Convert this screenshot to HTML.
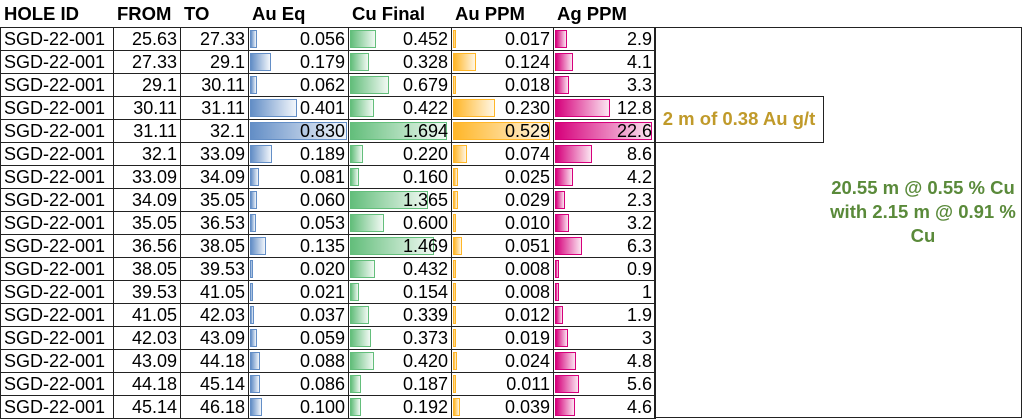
<!DOCTYPE html>
<html><head><meta charset="utf-8"><style>
body{margin:0;background:#fff;width:1024px;height:420px;overflow:hidden;font-family:"Liberation Sans",Arial,sans-serif;}
.h{position:absolute;top:3px;font-weight:bold;font-size:18.5px;color:#000}
table{position:absolute;left:0;top:27px;border-collapse:collapse;}
td{height:23px;padding:0 3px;font-size:18px;border:1px solid #222;line-height:22px;position:relative;overflow:hidden;box-sizing:border-box;white-space:nowrap}
td.n{text-align:right}
.b{position:absolute;left:1px;top:2px;bottom:2px;box-sizing:border-box;}
.bl{background:linear-gradient(90deg,#638ec6,#f2f6fb);border:1px solid #638ec6}
.gr{background:linear-gradient(90deg,#63be7b,#f1f9f3);border:1px solid #63be7b}
.or{background:linear-gradient(90deg,#ffb628,#fff6e4);border:1px solid #ffb628}
.pk{background:linear-gradient(90deg,#d6007b,#fbe5f1);border:1px solid #d6007b}
td span{position:relative}
</style></head><body>
<div class="h" style="left:4px">HOLE ID</div>
<div class="h" style="left:117px">FROM</div>
<div class="h" style="left:184px">TO</div>
<div class="h" style="left:252px">Au Eq</div>
<div class="h" style="left:352px">Cu Final</div>
<div class="h" style="left:455px">Au PPM</div>
<div class="h" style="left:557px">Ag PPM</div>
<div style="position:absolute;left:654px;top:27px;width:368px;height:391px;border:1.5px solid #222;box-sizing:border-box"></div>
<div style="position:absolute;left:654px;top:96px;width:170px;height:47px;border:1.5px solid #222;box-sizing:border-box;color:#c09a2a;font-weight:bold;font-size:18.5px;line-height:44px;text-align:center;white-space:nowrap">2 m of 0.38 Au g/t</div>
<div style="position:absolute;left:818px;top:176px;width:210px;text-align:center;color:#5a8a3a;font-weight:bold;font-size:18.5px;line-height:24px">20.55 m @ 0.55 % Cu<br>with 2.15 m @ 0.91 %<br>Cu</div>
<table id="t">
<colgroup><col style="width:113px"><col style="width:67px"><col style="width:68px"><col style="width:100px"><col style="width:103px"><col style="width:102px"><col style="width:102px"></colgroup>
<tbody></tbody></table>
<script>
var d=[["25.63","27.33","0.056","0.452","0.017","2.9"],["27.33","29.1","0.179","0.328","0.124","4.1"],["29.1","30.11","0.062","0.679","0.018","3.3"],["30.11","31.11","0.401","0.422","0.230","12.8"],["31.11","32.1","0.830","1.694","0.529","22.6"],["32.1","33.09","0.189","0.220","0.074","8.6"],["33.09","34.09","0.081","0.160","0.025","4.2"],["34.09","35.05","0.060","1.365","0.029","2.3"],["35.05","36.53","0.053","0.600","0.010","3.2"],["36.56","38.05","0.135","1.469","0.051","6.3"],["38.05","39.53","0.020","0.432","0.008","0.9"],["39.53","41.05","0.021","0.154","0.008","1"],["41.05","42.03","0.037","0.339","0.012","1.9"],["42.03","43.09","0.059","0.373","0.019","3"],["43.09","44.18","0.088","0.420","0.024","4.8"],["44.18","45.14","0.086","0.187","0.011","5.6"],["45.14","46.18","0.100","0.192","0.039","4.6"]];
var mx=[0.83,1.694,0.529,22.6],cl=["bl","gr","or","pk"],h="";
d.forEach(function(r){h+='<tr><td>SGD-22-001</td><td class="n">'+r[0]+'</td><td class="n">'+r[1]+'</td>';
for(var i=0;i<4;i++){var w=Math.max(3,parseFloat(r[i+2])/mx[i]*97);h+='<td class="n"><div class="b '+cl[i]+'" style="width:'+w+'px"></div><span>'+r[i+2]+'</span></td>';}
h+='</tr>';});
document.querySelector('#t tbody').innerHTML=h;
</script>
</body></html>
